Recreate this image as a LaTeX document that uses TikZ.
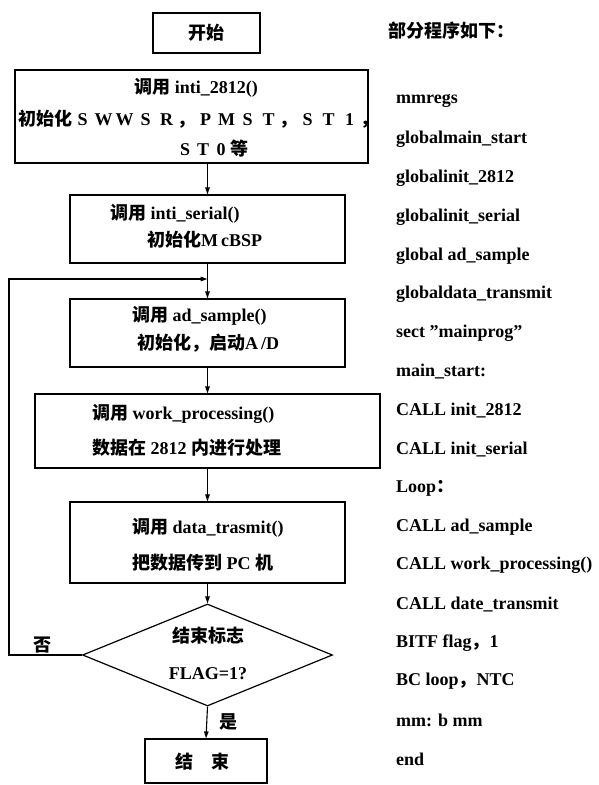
\documentclass[tikz,border=0pt]{standalone}
\usepackage{fontspec}
\setmainfont{Liberation Serif}
\newfontfamily\cjk{Noto Sans CJK SC}
\usetikzlibrary{arrows.meta,shapes.geometric}
\newcommand\zh[1]{{\cjk #1}}
\newcommand\lt[1]{\makebox[21pt]{#1}}
\newcommand\ltb[1]{\makebox[18pt]{#1}}
\begin{document}
\begin{tikzpicture}[x=1pt,y=-1pt,
  box/.style={draw, line width=1.2pt, inner sep=0pt},
  conn/.style={line width=1.1pt, -{Triangle[length=7pt,width=4.5pt]}},
  plain/.style={line width=1.1pt},
  txt/.style={font=\fontsize{18}{20}\selectfont\bfseries, inner sep=0pt},
  wtxt/.style={txt, anchor=west}
]
\useasboundingbox (0,0) rectangle (598,785);

% flowchart boxes
\node[box, minimum width=107pt, minimum height=40pt] (start) at (206.5,33) {};
\node[box, minimum width=353pt, minimum height=93pt] (b1) at (191.5,116.5) {};
\node[box, minimum width=275pt, minimum height=68pt] (b2) at (207.5,229) {};
\node[box, minimum width=275pt, minimum height=68pt] (b3) at (207.5,333) {};
\node[box, minimum width=345pt, minimum height=74pt] (b4) at (207.5,431) {};
\node[box, minimum width=275pt, minimum height=81pt] (b5) at (207.5,542.5) {};
\node[box, shape=diamond, aspect=2.45, minimum width=250pt, minimum height=102pt] (dia) at (207.5,655) {};
\node[box, minimum width=122pt, minimum height=44pt] (end) at (206,761) {};

% texts
\node[txt] (tstart) at (206.5,33) {\zh{开始}};
\node[txt] (t1a) at (196,88) {\zh{调用} inti\_2812()};
\node[wtxt] (t1b) at (18,119) {\zh{初始化}\lt{S}\lt{W}\lt{W}\lt{S}\lt{R}\zh{，}\lt{P}\lt{M}\lt{S}\lt{T}\zh{，}\lt{S}\lt{T}\lt{1}\zh{，}};
\node[wtxt] (t1c) at (176,149) {\ltb{S}\ltb{T}\ltb{0}\zh{等}};
\node[wtxt] (t2a) at (110,214) {\zh{调用} inti\_serial()};
\node[wtxt] (t2b) at (147,240) {\zh{初始化}M\,cBSP};
\node[wtxt] (t3a) at (132,316) {\zh{调用} ad\_sample()};
\node[wtxt] (t3b) at (137,343) {\zh{初始化，启动}A\,/D};
\node[wtxt] (t4a) at (92,414) {\zh{调用} work\_processing()};
\node[wtxt] (t4b) at (92,448) {\zh{数据在} 2812 \zh{内进行处理}};
\node[wtxt] (t5a) at (132,528) {\zh{调用} data\_trasmit()};
\node[wtxt] (t5b) at (132,563) {\zh{把数据传到} PC \zh{机}};
\node[txt] (tda) at (208,636) {\zh{结束标志}};
\node[txt] (tdb) at (208,674) {FLAG=1?};
\node[txt] (tno) at (43,645) {\zh{否}};
\node[txt] (tyes) at (228,722) {\zh{是}};
\node[txt] (tend) at (202,762) {\zh{结\quad 束}};

% connectors
\coordinate (lc) at (9,279);
\coordinate (j) at (207.5,279);
\draw[conn] (b1.south -| b2.north) -- (b2.north);
\draw[conn] (b2.south) -- (b3.north);
\draw[conn] (b3.south) -- (b4.north);
\draw[conn] (b4.south) -- (b5.north);
\draw[conn] (b5.south) -- (dia.north);
\draw[conn] (dia.south) -- (end.north);
\draw[conn] (dia.west) -- (dia.west -| lc) -- (lc) -- (j);

% program listing
\node[wtxt] (head) at (388,31) {\zh{部分程序如下：}};
\foreach \t [count=\i from 0] in {
  mmregs,
  globalmain\_start,
  globalinit\_2812,
  globalinit\_serial,
  global ad\_sample,
  globaldata\_transmit,
  sect "mainprog",
  main\_start:,
  CALL init\_2812,
  CALL init\_serial,
  Loop\zh{：},
  CALL ad\_sample,
  CALL work\_processing(),
  CALL date\_transmit,
  BITF flag\zh{，}1,
  BC loop\zh{，}NTC,
  mm: b mm,
  end}
  \node[wtxt] (code\i) at (396,{101+38.7*\i}) {\t};
\end{tikzpicture}
\end{document}
